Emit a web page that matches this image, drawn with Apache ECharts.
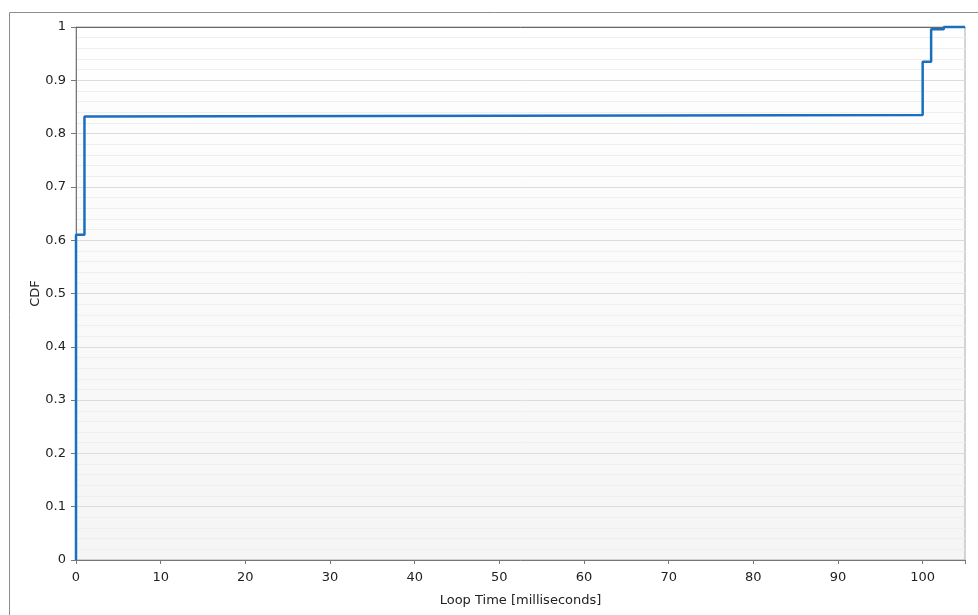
<!DOCTYPE html>
<html>
<head>
<meta charset="utf-8">
<script src="https://cdn.jsdelivr.net/npm/echarts@6/dist/echarts.min.js"></script>
<style>
html,body{margin:0;padding:0;background:#fff;}
#chart{width:978px;height:615px;}
</style>
</head>
<body>
<div id="chart"></div>
<script>
// Step vertices of the CDF (x in ms, y = cumulative fraction)
const loopTimeMs = [0, 0, 1, 2, 100, 101, 102.5, 105];
const cdfValues  = [0, 0.61, 0.832, 0.835, 0.935, 0.996, 1.0, 1.0];
const xTicks = [0, 10, 20, 30, 40, 50, 60, 70, 80, 90, 100];
const yTicks = [0, 0.1, 0.2, 0.3, 0.4, 0.5, 0.6, 0.7, 0.8, 0.9, 1];

const seriesData = loopTimeMs.map((x, i) => [x, cdfValues[i]]);
const font = 'DejaVu Sans, Verdana, sans-serif';

const chart = echarts.init(document.getElementById('chart'), null, {renderer: 'canvas'});
chart.setOption({
  animation: false,
  backgroundColor: '#ffffff',
  graphic: [{
    type: 'rect', z: -10, silent: true,
    shape: {x: 9.5, y: 12.5, width: 1000, height: 700},
    style: {fill: 'none', stroke: '#8c8c8c', lineWidth: 1}
  }],
  grid: {
    left: 76, right: 13, top: 27, bottom: 55,
    show: true,
    borderColor: '#ababab', borderWidth: 1,
    backgroundColor: new echarts.graphic.LinearGradient(0, 0, 0, 1, [
      {offset: 0, color: '#ffffff'}, {offset: 1, color: '#f5f5f5'}
    ])
  },
  xAxis: [{
    type: 'value', min: 0, max: 105, interval: 10,
    name: 'Loop Time [milliseconds]', nameLocation: 'middle', nameGap: 34,
    nameTextStyle: {fontFamily: font, fontSize: 13, color: '#222'},
    axisLine: {show: true, onZero: false, lineStyle: {color: '#777', width: 1}},
    axisTick: {show: true, length: 4, lineStyle: {color: '#777'}},
    axisLabel: {fontFamily: font, fontSize: 13, color: '#222', margin: 11,
      customValues: xTicks, formatter: v => String(v)},
    splitLine: {show: false}
  }, {
    type: 'value', position: 'top', min: 0, max: 105,
    axisLine: {show: true, onZero: false, lineStyle: {color: '#666', width: 1}},
    axisTick: {show: false}, axisLabel: {show: false}, splitLine: {show: false}
  }],
  yAxis: {
    type: 'value', min: 0, max: 1, interval: 0.1,
    name: 'CDF', nameLocation: 'middle', nameGap: 34, nameRotate: 90,
    nameMoveOverlap: false,
    nameTextStyle: {fontFamily: font, fontSize: 13, color: '#222'},
    axisLine: {show: true, onZero: false, lineStyle: {color: '#777', width: 1}},
    axisTick: {show: true, length: 5, lineStyle: {color: '#777'}},
    axisLabel: {fontFamily: font, fontSize: 13, color: '#222', margin: 10,
      customValues: yTicks, formatter: v => String(Math.round(v * 10) / 10)},
    splitLine: {show: true, lineStyle: {color: '#dcdcdc', width: 1}},
    minorTick: {show: false, splitNumber: 5},
    minorSplitLine: {show: true, lineStyle: {color: '#efefef', width: 1}}
  },
  series: [{
    type: 'line',
    step: 'end',
    data: seriesData,
    showSymbol: false,
    symbol: 'none',
    lineStyle: {color: '#1b6fbf', width: 2.5},
    clip: false
  }]
});
</script>
</body>
</html>
